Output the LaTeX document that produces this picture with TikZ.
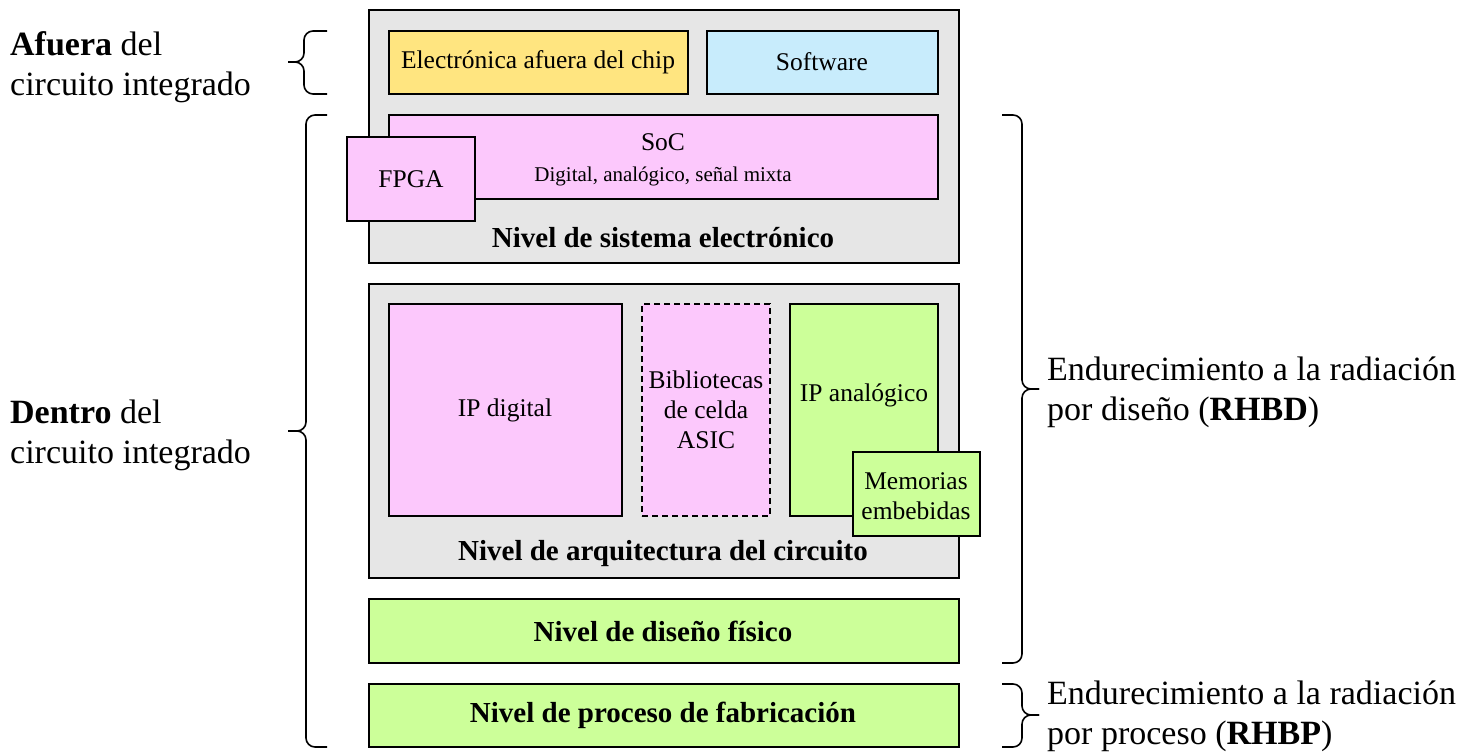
\documentclass[tikz,border=0pt]{standalone}
\usepackage{fontspec}
\setmainfont{Liberation Serif}
\definecolor{lgray}{RGB}{230,230,230}
\definecolor{cyellow}{RGB}{255,229,128}
\definecolor{cblue}{RGB}{200,236,252}
\definecolor{cpink}{RGB}{252,200,252}
\definecolor{cgreen}{RGB}{204,255,153}
\begin{document}
\begin{tikzpicture}[x=1pt,y=-1pt,
  frame/.style={draw=black, line width=1.8pt, inner sep=0pt, outer sep=0pt, anchor=north west},
  txt/.style={font=\fontsize{25.5}{30}\selectfont, align=center, inner sep=0pt},
  small/.style={font=\fontsize{21}{25}\selectfont, align=center, inner sep=0pt},
  title/.style={font=\fontsize{29}{34}\selectfont\bfseries, align=center, inner sep=0pt},
  side/.style={font=\fontsize{34}{40}\selectfont, align=left, inner sep=0pt, anchor=west},
  curly/.style={draw=black, line width=1.6pt, rounded corners=9pt}]
\useasboundingbox (0,0) rectangle (1469,754);

% Nivel de sistema electronico
\node[frame, fill=lgray, minimum width=590, minimum height=253] (sys) at (369,10) {};
\node[frame, fill=cyellow, minimum width=299, minimum height=63] (elec) at (389,31) {};
\node[frame, fill=cblue, minimum width=231, minimum height=63] (soft) at (707,31) {};
\node[frame, fill=cpink, minimum width=549, minimum height=84] (soc) at (389,115) {};
\node[frame, fill=cpink, minimum width=128, minimum height=84] (fpga) at (347,137) {};
\node[txt] (telec) at (538,62) {Electrónica afuera del chip};
\node[txt] (tsoft) at (822,62) {Software};
\node[txt] (tsoc) at (663,142) {SoC};
\node[small] (tsocsub) at (663,176) {Digital, analógico, señal mixta};
\node[txt] (tfpga) at (411,179) {FPGA};
\node[title] (tsys) at (663,238) {Nivel de sistema electrónico};

% Nivel de arquitectura del circuito
\node[frame, fill=lgray, minimum width=590, minimum height=294] (arch) at (369,284) {};
\node[frame, fill=cpink, minimum width=233, minimum height=212] (ipd) at (389,304) {};
\node[frame, fill=cpink, dash pattern=on 6pt off 4pt, minimum width=128, minimum height=212] (bib) at (642,304) {};
\node[frame, fill=cgreen, minimum width=148, minimum height=212] (ipa) at (790,304) {};
\node[frame, fill=cgreen, minimum width=127, minimum height=84] (mem) at (853,452) {};
\node[txt] (tipd) at (505,410) {IP digital};
\node[txt] (tbib) at (706,410) {Bibliotecas\\de celda\\ASIC};
\node[txt] (tipa) at (864,395) {IP analógico};
\node[txt] (tmem) at (916,496) {Memorias\\embebidas};
\node[title] (tarch) at (663,554) {Nivel de arquitectura del circuito};

% Niveles inferiores
\node[frame, fill=cgreen, minimum width=590, minimum height=64] (fis) at (369,599) {};
\node[title] (tfis) at (663,631) {Nivel de diseño físico};
\node[frame, fill=cgreen, minimum width=590, minimum height=63] (fab) at (369,684) {};
\node[title] (tfab) at (663,715) {Nivel de proceso de fabricación};

% Llaves
\draw[curly] (288,62) -- (304,62) -- (304,31) -- (327,31);
\draw[curly] (288,62) -- (304,62) -- (304,94) -- (327,94);
\draw[curly] (288,431) -- (306,431) -- (306,115) -- (327,115);
\draw[curly] (288,431) -- (306,431) -- (306,747) -- (327,747);
\draw[curly] (1039,389) -- (1022,389) -- (1022,115) -- (1002,115);
\draw[curly] (1039,389) -- (1022,389) -- (1022,663) -- (1002,663);
\draw[curly] (1039,715) -- (1022,715) -- (1022,684) -- (1002,684);
\draw[curly] (1039,715) -- (1022,715) -- (1022,747) -- (1002,747);

% Etiquetas laterales
\node[side] (afuera) at (10,67) {\textbf{Afuera} del\\circuito integrado};
\node[side] (dentro) at (10,435) {\textbf{Dentro} del\\circuito integrado};
\node[side] (rhbd) at (1047,392) {Endurecimiento a la radiación\\por diseño (\textbf{RHBD})};
\node[side] (rhbp) at (1047,716) {Endurecimiento a la radiación\\por proceso (\textbf{RHBP})};
\end{tikzpicture}
\end{document}
